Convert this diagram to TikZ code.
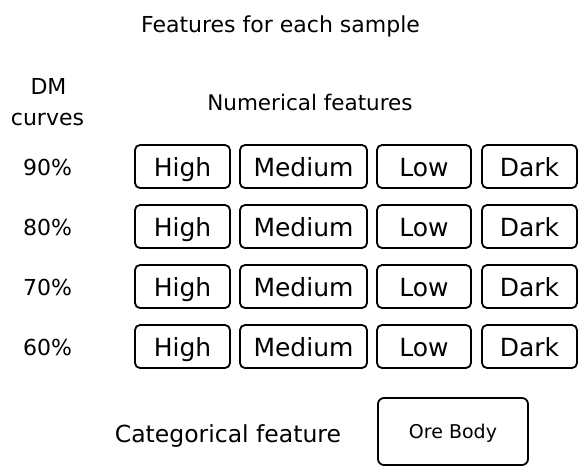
\documentclass[tikz,border=0pt]{standalone}
\usepackage{fontspec}
\setmainfont{DejaVu Sans}
\begin{document}
\begin{tikzpicture}[x=1pt,y=-1pt,
  featbox/.style={draw=black,line width=1.8pt,rounded corners=5pt,
    minimum height=43pt,inner sep=0pt,text height=19pt,text depth=0pt,
    font=\fontsize{25}{30}\selectfont},
  label/.style={anchor=base,inner sep=0pt},
  lbl/.style={label,font=\fontsize{22}{26}\selectfont}]
\useasboundingbox (0,0) rectangle (579,467);

% headings
\node[lbl] (title) at (280.5,32) {Features for each sample};
\node[lbl] (dm) at (48.5,94) {DM};
\node[lbl] (curves) at (47.5,125) {curves};
\node[lbl,font=\fontsize{21.5}{26}\selectfont] (num) at (310,110) {Numerical features};

% one row of numerical features per DM curve
\foreach \pct [count=\i from 0] in {90,80,70,60} {
  \pgfmathsetmacro{\cy}{166.5+60*\i}
  \node[lbl] (p\pct) at (47.5,\cy+8.5) {\pct\%};
  \node[featbox,minimum width=95pt]  (high\pct) at (182.5,\cy) {High};
  \node[featbox,minimum width=127pt] (med\pct)  at (303.5,\cy) {Medium};
  \node[featbox,minimum width=94pt]  (low\pct)  at (424,\cy)   {Low};
  \node[featbox,minimum width=95pt]  (dark\pct) at (529.5,\cy) {Dark};
}

% categorical feature
\node[label,font=\fontsize{23.5}{28}\selectfont] (cat) at (228,442) {Categorical feature};
\node[draw=black,line width=1.8pt,rounded corners=6pt,minimum width=150pt,
  minimum height=67pt,inner sep=0pt,text height=14pt,text depth=0pt,
  font=\fontsize{19}{23}\selectfont] (ore) at (453,431.5) {Ore Body};
\end{tikzpicture}
\end{document}
